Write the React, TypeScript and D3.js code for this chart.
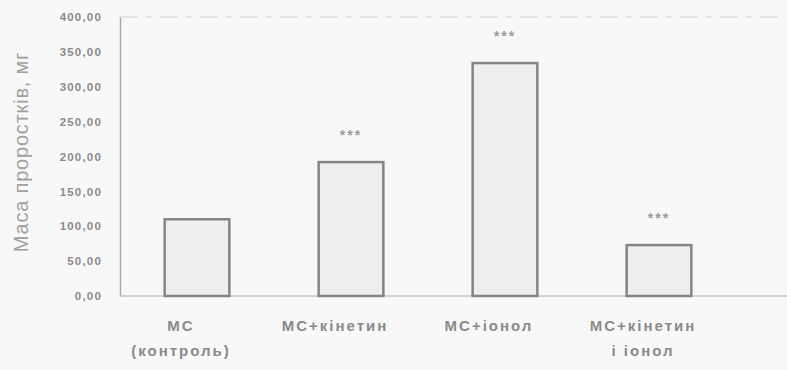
import { useRef, useEffect } from 'react';
import * as d3 from 'd3';

// Маса проростків по варіантах досліду
const categories = ['МС (контроль)', 'МС+кінетин', 'МС+іонол', 'МС+кінетин і іонол'];
const labelLines = [['МС', '(контроль)'], ['МС+кінетин'], ['МС+іонол'], ['МС+кінетин', 'і іонол']];
const values = [110, 192, 334, 73];
const significance = ['', '***', '***', '***'];
const yTicks = [0, 50, 100, 150, 200, 250, 300, 350, 400];

const W = 787;
const H = 370;
const INK = '#8a8a8a';
const FONT = 'Arial, "Liberation Sans", sans-serif';

export default function App() {
  const svgRef = useRef<SVGSVGElement>(null);

  useEffect(() => {
    document.body.style.margin = '0';
    const svg = d3.select(svgRef.current);
    svg.selectAll('*').remove();

    const left = 120, top = 17, bottom = 296, right = 787;

    const y = d3.scaleLinear().domain([0, 400]).range([bottom, top]);
    const x = d3.scaleBand<string>()
      .domain(categories)
      .range([left, 736])
      .paddingInner(0.58)
      .paddingOuter(0.29);

    svg.append('rect').attr('width', W).attr('height', H).attr('fill', '#f8f8f8');

    // frame: faint dashed top, left axis, baseline
    svg.append('line')
      .attr('x1', left).attr('x2', 782).attr('y1', top).attr('y2', top)
      .attr('stroke', '#dadada').attr('stroke-width', 1.5).attr('stroke-dasharray', '18 8 6 8');

    const yAxis = svg.append('g')
      .attr('transform', 'translate(' + left + ',0)')
      .call(d3.axisLeft(y).tickValues(yTicks).tickSize(0).tickPadding(18)
        .tickFormat(function (d) { return (+d).toFixed(2).replace('.', ','); }));
    yAxis.select('.domain').attr('stroke', '#aaaaaa').attr('stroke-width', 1.5);
    yAxis.selectAll('text')
      .attr('fill', INK)
      .attr('font-family', FONT)
      .attr('font-size', '11.5px')
      .attr('font-weight', 'bold')
      .attr('letter-spacing', '1.2px');

    svg.append('line')
      .attr('x1', left).attr('x2', right).attr('y1', bottom).attr('y2', bottom)
      .attr('stroke', '#c4c4c4').attr('stroke-width', 1.5);

    // bars
    svg.append('g').selectAll('rect')
      .data(values)
      .join('rect')
      .attr('x', function (d, i) { return x(categories[i]) as number; })
      .attr('y', function (d) { return y(d); })
      .attr('width', x.bandwidth())
      .attr('height', function (d) { return bottom - y(d); })
      .attr('fill', '#efefef')
      .attr('stroke', '#858585')
      .attr('stroke-width', 2.5);

    // significance stars
    svg.append('g').selectAll('text')
      .data(values)
      .join('text')
      .attr('x', function (d, i) { return (x(categories[i]) as number) + x.bandwidth() / 2; })
      .attr('y', function (d) { return y(d) - 22; })
      .attr('text-anchor', 'middle')
      .attr('font-family', FONT)
      .attr('font-size', '14px')
      .attr('font-weight', 'bold')
      .attr('fill', '#9a9a9a')
      .attr('letter-spacing', '2px')
      .text(function (d, i) { return significance[i]; });

    // category labels
    const lab = svg.append('g').selectAll('text')
      .data(categories)
      .join('text')
      .attr('y', 331)
      .attr('text-anchor', 'middle')
      .attr('font-family', FONT)
      .attr('font-size', '15px')
      .attr('font-weight', 'bold')
      .attr('letter-spacing', '2px')
      .attr('fill', '#8a8a8a');
    lab.each(function (d, i) {
      const t = d3.select(this);
      labelLines[i].forEach(function (line, j) {
        t.append('tspan')
          .attr('x', (x(d) as number) + x.bandwidth() / 2 - 16)
          .attr('dy', j === 0 ? 0 : 25)
          .text(line);
      });
    });

    // y title
    svg.append('text')
      .attr('transform', 'translate(28,152) rotate(-90)')
      .attr('text-anchor', 'middle')
      .attr('font-family', FONT)
      .attr('font-size', '20px')
      .attr('letter-spacing', '0.8px')
      .attr('fill', '#a0a0a0')
      .text('Маса проростків, мг');
  }, []);

  return <svg ref={svgRef} width={W} height={H} style={{ display: 'block' }} />;
}
